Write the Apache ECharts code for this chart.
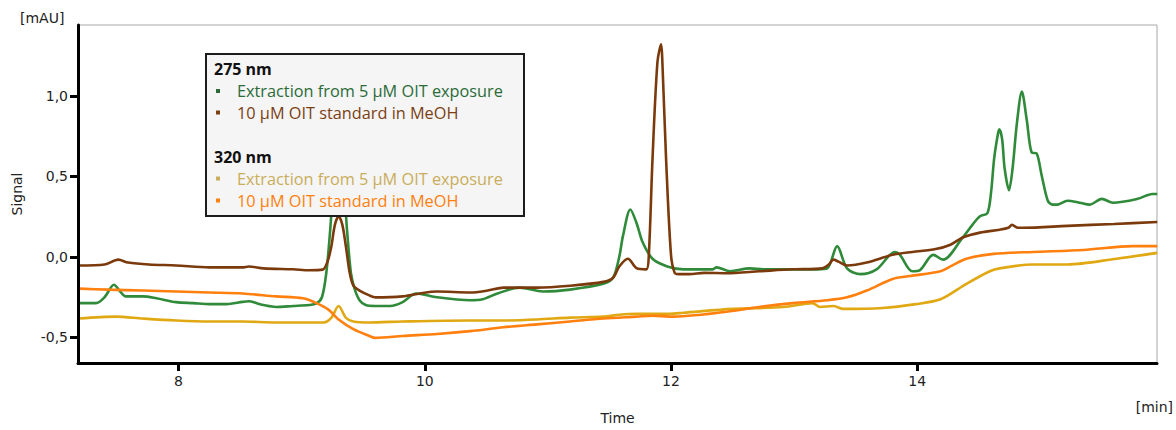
<!DOCTYPE html>
<html>
<head>
<meta charset="utf-8">
<style>
  html, body { margin: 0; padding: 0; background: #ffffff; }
  #chart { width: 1176px; height: 430px; }
</style>
<script src="https://cdn.jsdelivr.net/npm/echarts@6/dist/echarts.min.js"></script>
</head>
<body>
<div id="chart"></div>
<script>
// Retention time [min] / signal [mAU] pairs for each chromatogram trace.
const ext275 = [
  [7.19,-0.288],[7.33,-0.288],[7.40,-0.25],[7.475,-0.174],[7.53,-0.22],[7.57,-0.246],[7.71,-0.246],
  [7.82,-0.258],[7.98,-0.282],[8.12,-0.288],[8.25,-0.294],[8.39,-0.294],[8.52,-0.28],[8.57,-0.276],
  [8.64,-0.29],[8.69,-0.30],[8.79,-0.312],[8.93,-0.306],[9.06,-0.30],[9.12,-0.29],[9.165,-0.25],
  [9.20,-0.10],[9.23,0.15],[9.26,0.45],[9.30,0.61],[9.34,0.45],[9.37,0.15],[9.40,-0.10],[9.43,-0.20],
  [9.47,-0.27],[9.52,-0.30],[9.60,-0.306],[9.72,-0.306],[9.82,-0.282],[9.93,-0.228],[10.10,-0.252],
  [10.37,-0.27],[10.47,-0.264],[10.59,-0.228],[10.77,-0.192],[10.96,-0.216],[11.18,-0.204],
  [11.45,-0.168],[11.53,-0.13],[11.58,0.0],[11.61,0.13],[11.67,0.294],[11.72,0.21],[11.77,0.09],
  [11.85,-0.012],[11.97,-0.06],[12.10,-0.078],[12.34,-0.078],[12.37,-0.066],[12.48,-0.09],
  [12.64,-0.072],[12.75,-0.078],[12.91,-0.078],[13.19,-0.078],[13.27,-0.072],[13.35,0.066],
  [13.43,-0.072],[13.54,-0.108],[13.67,-0.078],[13.82,0.03],[13.86,0.012],[13.96,-0.09],
  [14.02,-0.084],[14.13,0.012],[14.21,-0.018],[14.37,0.12],[14.45,0.2],[14.51,0.252],[14.57,0.27],
  [14.60,0.40],[14.625,0.61],[14.655,0.76],[14.667,0.792],[14.69,0.73],[14.71,0.55],[14.746,0.414],
  [14.775,0.55],[14.81,0.83],[14.85,1.026],[14.89,0.85],[14.93,0.648],[14.97,0.642],[15.01,0.51],
  [15.06,0.35],[15.10,0.324],[15.14,0.324],[15.22,0.348],[15.32,0.336],[15.40,0.324],[15.50,0.36],
  [15.59,0.336],[15.79,0.36],[15.91,0.39],[15.95,0.39]
];
const std275 = [
  [7.19,-0.054],[7.40,-0.048],[7.51,-0.018],[7.59,-0.036],[7.76,-0.048],[7.98,-0.054],[8.25,-0.066],
  [8.52,-0.066],[8.57,-0.060],[8.69,-0.072],[8.93,-0.078],[9.06,-0.084],[9.17,-0.08],[9.21,-0.03],
  [9.24,0.06],[9.27,0.2],[9.30,0.25],[9.33,0.2],[9.36,0.06],[9.39,-0.10],[9.42,-0.18],[9.47,-0.21],
  [9.55,-0.24],[9.60,-0.252],[9.82,-0.246],[9.96,-0.228],[10.10,-0.216],[10.37,-0.222],[10.51,-0.21],
  [10.64,-0.192],[10.91,-0.192],[11.18,-0.18],[11.45,-0.156],[11.53,-0.13],[11.58,-0.06],
  [11.65,-0.012],[11.72,-0.07],[11.80,-0.078],[11.82,0.012],[11.85,0.61],[11.89,1.21],[11.92,1.32],
  [11.93,1.21],[11.96,0.61],[12.00,0.012],[12.03,-0.10],[12.06,-0.108],[12.15,-0.108],[12.27,-0.10],
  [12.45,-0.102],[12.72,-0.09],[12.99,-0.078],[13.23,-0.072],[13.28,-0.05],[13.32,-0.018],
  [13.36,-0.03],[13.43,-0.054],[13.59,-0.036],[13.80,0.012],[13.96,0.03],[14.15,0.048],[14.27,0.075],
  [14.37,0.12],[14.51,0.15],[14.67,0.168],[14.74,0.18],[14.77,0.198],[14.82,0.18],[14.86,0.18],
  [15.22,0.192],[15.60,0.204],[15.95,0.216]
];
const ext320 = [
  [7.19,-0.384],[7.49,-0.372],[7.71,-0.384],[7.98,-0.396],[8.25,-0.402],[8.52,-0.402],[8.79,-0.408],
  [9.18,-0.408],[9.24,-0.38],[9.30,-0.306],[9.36,-0.38],[9.42,-0.402],[9.55,-0.408],[9.82,-0.402],
  [10.37,-0.396],[10.64,-0.396],[10.91,-0.39],[11.18,-0.378],[11.45,-0.372],[11.58,-0.36],
  [11.72,-0.354],[11.99,-0.354],[12.10,-0.348],[12.50,-0.324],[12.91,-0.312],[13.15,-0.288],
  [13.21,-0.312],[13.32,-0.306],[13.40,-0.324],[13.72,-0.318],[13.99,-0.294],[14.19,-0.264],
  [14.40,-0.168],[14.59,-0.09],[14.67,-0.072],[14.94,-0.048],[15.22,-0.048],[15.62,-0.012],[15.95,0.024]
];
const std320 = [
  [7.19,-0.198],[7.43,-0.204],[7.71,-0.21],[7.98,-0.216],[8.25,-0.222],[8.52,-0.228],[8.79,-0.246],
  [9.01,-0.258],[9.12,-0.288],[9.22,-0.33],[9.30,-0.39],[9.42,-0.45],[9.55,-0.492],[9.60,-0.504],
  [9.82,-0.492],[10.10,-0.48],[10.37,-0.462],[10.64,-0.438],[10.91,-0.42],[11.18,-0.402],
  [11.45,-0.384],[11.72,-0.372],[11.85,-0.366],[11.99,-0.372],[12.45,-0.342],[12.72,-0.312],
  [12.99,-0.288],[13.27,-0.27],[13.43,-0.252],[13.59,-0.21],[13.80,-0.138],[13.94,-0.12],
  [14.19,-0.09],[14.27,-0.06],[14.40,-0.012],[14.62,0.018],[14.94,0.03],[15.35,0.042],[15.75,0.066],
  [15.95,0.066]
];

const groupTitles = ['275 nm', '320 nm'];
const seriesNames = [
  'Extraction from 5 µM OIT exposure', '10 µM OIT standard in MeOH',
  'Extraction from 5 µM OIT exposure', '10 µM OIT standard in MeOH'
];
const xTicks = [8, 10, 12, 14];
const yTicks = [-0.5, 0, 0.5, 1.0];

const lineColors = ['#2f8a3a', '#7b3a0c', '#e0a812', '#ff7f0f'];
const legendColors = ['#2b6b37', '#7b3f13', '#c9ad5a', '#ff7f0f'];
const traces = [ext275, std275, ext320, std320];

const axisFont = 'DejaVu Sans';
const legendFont = 'Open Sans';

// Legend box with wavelength headings
const legendRows = [
  { kind: 'title', text: groupTitles[0], y: 69 },
  { kind: 'item', idx: 0, y: 91 },
  { kind: 'item', idx: 1, y: 112.5 },
  { kind: 'title', text: groupTitles[1], y: 156.5 },
  { kind: 'item', idx: 2, y: 178.5 },
  { kind: 'item', idx: 3, y: 200.5 }
];
const legendGraphic = [{
  type: 'rect', z: 100,
  shape: { x: 206, y: 54, width: 318, height: 162 },
  style: { fill: '#f5f5f5', stroke: '#1c1c1c', lineWidth: 2 }
}];
legendRows.forEach(r => {
  if (r.kind === 'title') {
    legendGraphic.push({
      type: 'text', z: 101, x: 214, y: r.y,
      style: { text: r.text, fill: '#111', fontFamily: legendFont, fontWeight: 'bold',
               fontSize: 16, verticalAlign: 'middle', align: 'left' }
    });
  } else {
    legendGraphic.push({
      type: 'rect', z: 101,
      shape: { x: 216, y: r.y - 2, width: 4, height: 4 },
      style: { fill: legendColors[r.idx] }
    });
    legendGraphic.push({
      type: 'text', z: 101, x: 237, y: r.y,
      style: { text: seriesNames[r.idx], fill: legendColors[r.idx], fontFamily: legendFont,
               fontSize: 16.3, verticalAlign: 'middle', align: 'left' }
    });
  }
});

const unitLabels = [
  { type: 'text', x: 20, y: 18, style: { text: '[mAU]', fill: '#222', fontFamily: axisFont, fontSize: 14,
    verticalAlign: 'middle', align: 'left' } },
  { type: 'text', x: 1173, y: 407, style: { text: '[min]', fill: '#222', fontFamily: axisFont, fontSize: 14,
    verticalAlign: 'middle', align: 'right' } }
];

const chart = echarts.init(document.getElementById('chart'), null, { renderer: 'svg' });
chart.setOption({
  animation: false,
  backgroundColor: '#ffffff',
  grid: { left: 78, right: 19, top: 25, bottom: 55, show: true, borderColor: '#a8a8a8', borderWidth: 1 },
  xAxis: {
    type: 'value', min: 7.183, max: 15.948, z: 10,
    name: 'Time', nameLocation: 'middle', nameGap: 48,
    nameTextStyle: { fontFamily: axisFont, fontSize: 14, color: '#222' },
    axisLine: { show: true, onZero: false, lineStyle: { color: '#000', width: 3 } },
    axisTick: { show: true, customValues: xTicks, length: 8, lineStyle: { color: '#000', width: 3 } },
    axisLabel: { customValues: xTicks, margin: 11, fontFamily: axisFont, fontSize: 14, color: '#222',
                 formatter: v => String(v) },
    splitLine: { show: false }
  },
  yAxis: {
    type: 'value', min: -0.66, max: 1.44, z: 10,
    name: 'Signal', nameLocation: 'middle', nameGap: 54,
    nameTextStyle: { fontFamily: axisFont, fontSize: 14, color: '#222' },
    axisLine: { show: true, onZero: false, lineStyle: { color: '#000', width: 3 } },
    axisTick: { show: true, customValues: yTicks, length: 8, lineStyle: { color: '#000', width: 3 } },
    axisLabel: { customValues: yTicks, margin: 10, fontFamily: axisFont, fontSize: 14, color: '#222',
                 formatter: v => v.toFixed(1).replace('.', ',') },
    splitLine: { show: false }
  },
  graphic: legendGraphic.concat(unitLabels),
  series: [3, 2, 0, 1].map(i => ({
    type: 'line',
    name: seriesNames[i],
    data: traces[i],
    showSymbol: false,
    smooth: 0.3,
    clip: true,
    lineStyle: { color: lineColors[i], width: 2.6 },
    itemStyle: { color: lineColors[i] },
    z: 2 + i
  }))
});
</script>
</body>
</html>
